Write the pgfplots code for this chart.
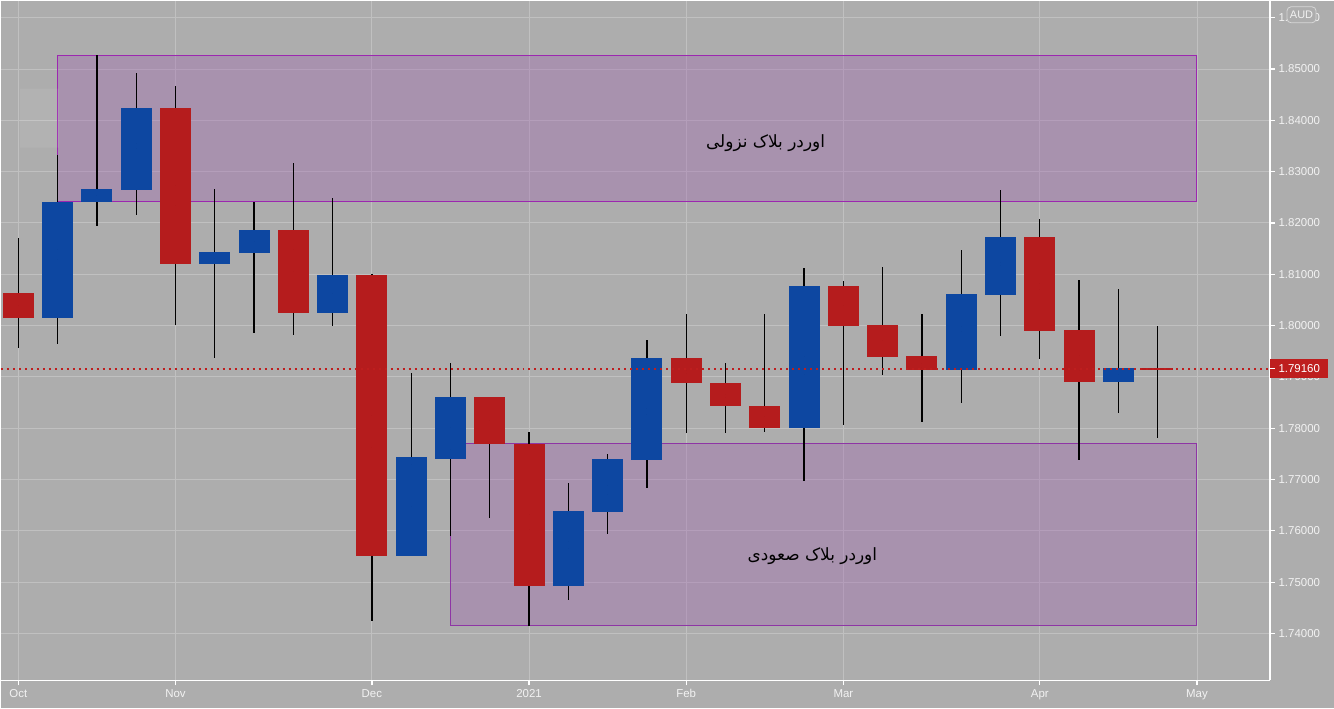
\documentclass[border=0pt]{standalone}
\usepackage{pgfplots}
\pgfplotsset{compat=1.18}
\usepackage{pgfplotstable}
\usepackage{fontspec}
\setmainfont{Liberation Sans}
\newfontfamily\arabicfont[Script=Arabic]{DejaVu Sans}
\TeXXeTstate=1
\definecolor{bg}{RGB}{173,173,173}
\definecolor{gridc}{RGB}{192,192,192}
\definecolor{candred}{RGB}{181,28,29}
\definecolor{candblue}{RGB}{13,71,161}
\definecolor{boxfill}{RGB}{159,96,176}
\definecolor{boxline}{RGB}{156,39,176}
\definecolor{boxline2}{RGB}{142,53,165}
\definecolor{lblc}{RGB}{242,242,242}
\definecolor{pricered}{RGB}{190,30,30}

\pgfplotstableread{
i o h l c
0 1.8063 1.8171 1.7957 1.8015
4 1.8425 1.8468 1.8002 1.8120
7 1.8186 1.8316 1.7982 1.8025
9 1.8099 1.8100 1.7425 1.7551
12 1.7860 1.7860 1.7625 1.7769
13 1.7770 1.7793 1.7414 1.7492
17 1.7936 1.8023 1.7790 1.7888
18 1.7889 1.7928 1.7790 1.7843
19 1.7844 1.8023 1.7793 1.7801
21 1.8078 1.8086 1.7807 1.8000
22 1.8002 1.8115 1.7904 1.7938
23 1.7940 1.8023 1.7813 1.7914
26 1.8173 1.8208 1.7934 1.7990
27 1.7992 1.8088 1.7739 1.7891
29 1.7918 1.8000 1.7780 1.7914
}\redtbl

\pgfplotstableread{
i o h l c
1 1.8015 1.8332 1.7965 1.8241
2 1.8240 1.8527 1.8194 1.8266
3 1.8265 1.8493 1.8216 1.8425
5 1.8120 1.8266 1.7936 1.8143
6 1.8142 1.8241 1.7986 1.8186
8 1.8025 1.8248 1.7999 1.8099
10 1.7551 1.7908 1.7551 1.7743
11 1.7741 1.7928 1.7589 1.7860
14 1.7492 1.7694 1.7465 1.7638
15 1.7636 1.7749 1.7593 1.7741
16 1.7739 1.7971 1.7684 1.7936
20 1.7801 1.8113 1.7697 1.8078
24 1.7914 1.8148 1.7850 1.8062
25 1.8060 1.8265 1.7979 1.8173
28 1.7891 1.8072 1.7829 1.7918
}\bluetbl

\pgfplotsset{
  candle/.style={only marks, no markers, mark size=0pt, mark options={draw=none, fill=none},
    error bars/.cd, y dir=both, y explicit, error mark=none,
    error bar style={#1}},
}

\begin{document}
\begin{tikzpicture}[x=1bp,y=1bp]
\fill[bg] (0,0) rectangle (1334,-708);
\begin{axis}[
  at={(0,0)}, anchor=north west,
  scale only axis, width=1270bp, height=680bp,
  xmin=-0.445, xmax=31.86, ymin=1.73084, ymax=1.8633,
  axis x line*=bottom, axis y line*=right,
  axis line style={white, line width=1.6bp},
  xtick={0,4,9,13,17,21,26,30},
  xticklabels={Oct,Nov,Dec,2021,Feb,Mar,Apr,May},
  ytick={1.74,1.75,1.76,1.77,1.78,1.79,1.80,1.81,1.82,1.83,1.84,1.85,1.86},
  yticklabels={1.74000,1.75000,1.76000,1.77000,1.78000,1.79000,1.80000,1.81000,1.82000,1.83000,1.84000,1.85000,1.86000},
  tick align=outside, major tick length=5bp,
  tick style={white, line width=1.2bp},
  grid=major, major grid style={gridc, line width=1bp},
  ticklabel style={font=\fontsize{11.5}{13}\selectfont, text=lblc},
  yticklabel style={anchor=west, xshift=0bp},
  xticklabel style={anchor=base, yshift=-12bp},
  clip=true,
]
% order block zones
\addplot[fill=boxfill, fill opacity=0.35, draw=boxline, line width=1bp]
  coordinates {(1,1.82409) (29.98,1.82409) (29.98,1.85273) (1,1.85273) (1,1.82409)};
\addplot[fill=boxfill, fill opacity=0.35, draw=boxline2, line width=1bp]
  coordinates {(11,1.74149) (29.98,1.74149) (29.98,1.7770) (11,1.7770) (11,1.74149)};
% faint ghost patch at top left
\addplot[fill=white, fill opacity=0.07, draw=none]
  coordinates {(0.04,1.83467) (1.03,1.83467) (1.03,1.84616) (0.04,1.84616) (0.04,1.83467)};
% wicks
\addplot[candle={black, line width=1.3bp}]
  table[x=i, y expr={(\thisrow{h}+\thisrow{l})/2}, y error expr={(\thisrow{h}-\thisrow{l})/2}] {\redtbl};
\addplot[candle={black, line width=1.3bp}]
  table[x=i, y expr={(\thisrow{h}+\thisrow{l})/2}, y error expr={(\thisrow{h}-\thisrow{l})/2}] {\bluetbl};
% bodies
\addplot[candle={candred, line width=31bp}]
  table[x=i, y expr={(\thisrow{o}+\thisrow{c})/2}, y error expr={abs(\thisrow{o}-\thisrow{c})/2}] {\redtbl};
\addplot[candle={candblue, line width=31bp}]
  table[x=i, y expr={(\thisrow{o}+\thisrow{c})/2}, y error expr={abs(\thisrow{o}-\thisrow{c})/2}] {\bluetbl};
% current price line
\addplot[pricered, line width=2bp, dash pattern=on 2bp off 4bp]
  coordinates {(-0.445,1.7916) (31.86,1.7916)};
% zone labels
\node[text=black, font=\fontsize{17}{20}\selectfont] at (axis cs:19.02,1.8356)
  {\arabicfont\beginR اوردر بلاک نزولی\endR};
\node[text=black, font=\fontsize{17}{20}\selectfont] at (axis cs:20.21,1.7550)
  {\arabicfont\beginR اوردر بلاک صعودی\endR};
\coordinate (pl) at (axis cs:31.86,1.7916);
\end{axis}
% price label
\node[anchor=west, fill=pricered, text=white, inner sep=0pt, minimum width=58bp, minimum height=19bp,
  font=\fontsize{11.5}{13}\selectfont] at (pl) {1.79160};
\draw[white, line width=1.2bp] (pl) -- ++(5,0);
% currency badge
\node[fill=bg, draw={rgb,255:red,215;green,215;blue,215}, rounded corners=4bp, line width=0.8bp,
  text=lblc, inner sep=1bp, minimum width=29bp, minimum height=16bp,
  font=\fontsize{11}{12}\selectfont] at (1301.5,-14) {AUD};
\end{tikzpicture}
\end{document}
